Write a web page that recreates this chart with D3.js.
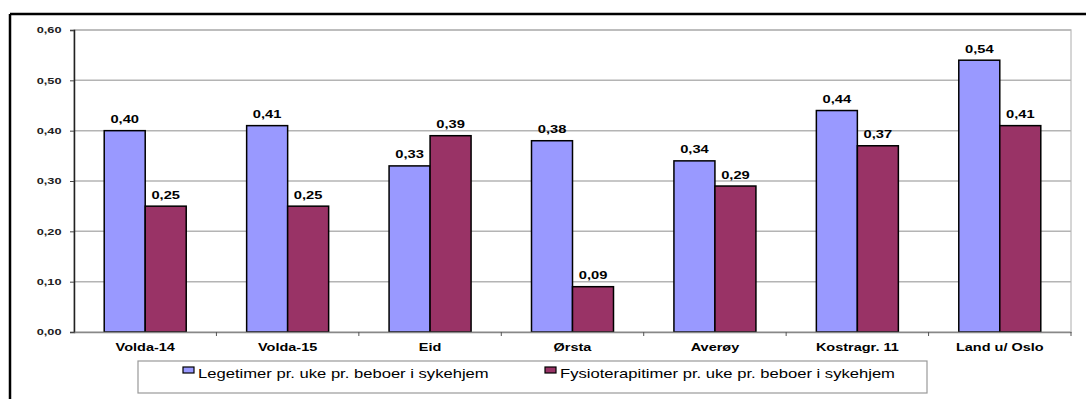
<!DOCTYPE html>
<html><head><meta charset="utf-8">
<script src="https://cdn.jsdelivr.net/npm/d3@7"></script>
<style>
html,body{margin:0;padding:0;background:#fff;}
svg{display:block;font-family:"Liberation Sans",Arial,sans-serif;}
</style></head>
<body>
<svg id="c" width="1086" height="399"></svg>
<script>
const categories = ["Volda-14","Volda-15","Eid","Ørsta","Averøy","Kostragr. 11","Land u/ Oslo"];
const legeValues = [0.40,0.41,0.33,0.38,0.34,0.44,0.54];
const fysioValues = [0.25,0.25,0.39,0.09,0.29,0.37,0.41];
const seriesNames = ["Legetimer pr. uke pr. beboer i sykehjem","Fysioterapitimer pr. uke pr. beboer i sykehjem"];
const yTicks = [0,0.1,0.2,0.3,0.4,0.5,0.6];
const colors = ["#9999FF","#993366"];

(function(){
const svg = d3.select("#c");
const fmt = v => v.toFixed(2).replace(".", ",");

// outer frame (left + top visible)
svg.append("line").attr("x1",10).attr("y1",14).attr("x2",1086).attr("y2",14).attr("stroke","#000").attr("stroke-width",2.5);
svg.append("line").attr("x1",10).attr("y1",14).attr("x2",10).attr("y2",399).attr("stroke","#000").attr("stroke-width",2.5);

const pL = 74, pR = 1071, pT = 30, pB = 332;
const x = d3.scaleBand().domain(categories).range([pL,pR]).paddingInner(0).paddingOuter(0);
const y = d3.scaleLinear().domain([0,0.6]).range([pB,pT]);
const barW = 41;
const sub = d3.scaleBand().domain([0,1]).range([-barW, barW]);

// plot area border (gray)
svg.append("rect").attr("x",pL).attr("y",pT).attr("width",pR-pL).attr("height",pB-pT)
  .attr("fill","none").attr("stroke","#c8c8c8").attr("stroke-width",1.5);

// gridlines
svg.append("g").selectAll("line").data(yTicks.filter(t=>t>0)).join("line")
  .attr("x1",pL).attr("x2",pR).attr("y1",d=>y(d)).attr("y2",d=>y(d))
  .attr("stroke","#b4b4b4").attr("stroke-width",1.5);

// y axis
const yAxis = d3.axisLeft(y).tickValues(yTicks).tickFormat(fmt).tickSize(4).tickPadding(9);
const gy = svg.append("g").attr("transform",`translate(${pL},0)`).call(yAxis);
gy.select(".domain").attr("stroke","#222").attr("stroke-width",1.5);
gy.selectAll(".tick line").attr("stroke","#444");
gy.selectAll("text").attr("x",0).attr("transform","translate(-12.5,0) scale(1.45,1)")
  .attr("font-size",8.8).attr("font-weight","bold").attr("fill","#222");

// bars
const groups = svg.append("g").selectAll("g").data(categories).join("g")
  .attr("transform",d=>`translate(${x(d)+x.bandwidth()/2},0)`);
[legeValues,fysioValues].forEach((vals,si)=>{
  groups.append("rect")
    .attr("x",sub(si)).attr("width",sub.bandwidth())
    .attr("y",(d,i)=>y(vals[i])).attr("height",(d,i)=>pB-y(vals[i]))
    .attr("fill",colors[si]).attr("stroke","#000").attr("stroke-width",1.5);
  groups.append("text")
    .attr("transform",(d,i)=>`translate(${sub(si)+sub.bandwidth()/2},${y(vals[i])-7.5}) scale(1.4,1)`)
    .attr("text-anchor","middle").attr("font-size",10.5).attr("font-weight","bold")
    .text((d,i)=>fmt(vals[i]));
});

// x axis
const xAxis = d3.axisBottom(x).tickSize(0).tickPadding(11);
const gx = svg.append("g").attr("transform",`translate(0,${pB})`).call(xAxis);
gx.select(".domain").attr("stroke","#888").attr("stroke-width",1.5);
gx.selectAll("text").attr("transform","scale(1.26,1)")
  .attr("font-size",11.5).attr("font-weight","bold").attr("fill","#000");
// boundary tick marks
svg.append("g").selectAll("line").data(categories).join("line")
  .attr("x1",(d,i)=>pL + x.step()*(i+1)).attr("x2",(d,i)=>pL + x.step()*(i+1))
  .attr("y1",pB).attr("y2",pB+4).attr("stroke","#555").attr("stroke-width",1);

// legend
const lg = svg.append("g");
lg.append("rect").attr("x",138).attr("y",361).attr("width",789).attr("height",32)
  .attr("fill","#fff").attr("stroke","#999").attr("stroke-width",1.2);
const legX = [183,545];
seriesNames.forEach((n,i)=>{
  lg.append("rect").attr("x",legX[i]).attr("y",367).attr("width",11).attr("height",6)
    .attr("fill",colors[i]).attr("stroke","#000").attr("stroke-width",1.2);
  lg.append("text").attr("transform",`translate(${legX[i]+15},377.5) scale(1.33,1)`)
    .attr("font-size",12.5).attr("fill","#000").text(n);
});
})();
</script>
</body></html>
